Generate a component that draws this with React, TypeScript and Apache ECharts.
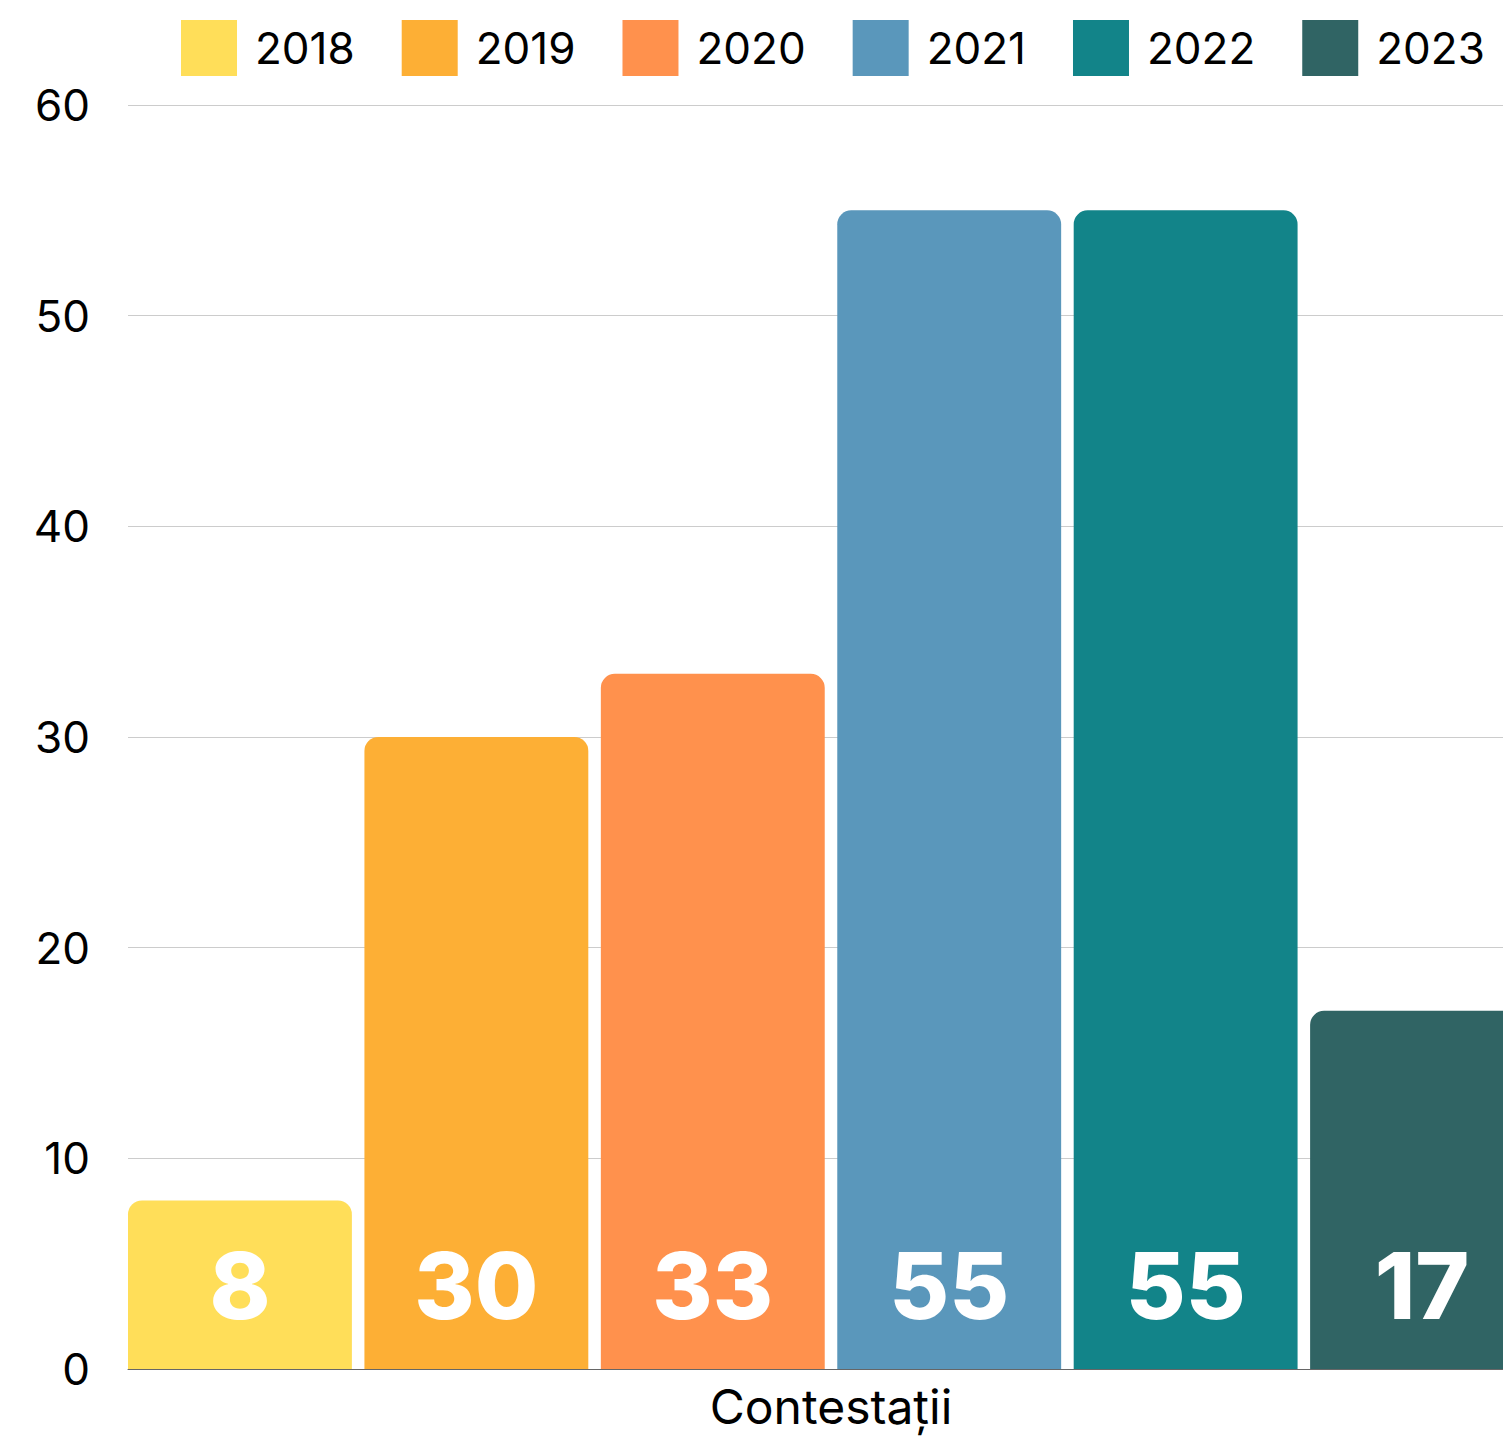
import React, { useEffect, useRef } from "react";
import * as echarts from "echarts";

const categories = ["Contestații"];
const years = ["2018", "2019", "2020", "2021", "2022", "2023"];
const values = [8, 30, 33, 55, 55, 17];
const colors = ["#FFDE59", "#FDAF35", "#FF914D", "#5A97BB", "#128489", "#306464"];
const yTicks = { min: 0, max: 60, interval: 10 };

const FONT = "Inter";

export default function App() {
  const ref = useRef<HTMLDivElement>(null);
  useEffect(() => {
    document.body.style.margin = "0";
    const chart = echarts.init(ref.current!, null, { renderer: "svg" });
    chart.setOption({
      animation: false,
      textStyle: { fontFamily: FONT },
      legend: {
        top: 20,
        left: 181,
        width: 1340,
        padding: 0,
        itemWidth: 56,
        itemHeight: 56,
        itemGap: 47,
        icon: "rect",
        textStyle: { fontSize: 44, color: "#000", fontFamily: FONT, padding: [0, 0, 0, 13] },
        data: years,
      },
      grid: { left: 128, right: 0, top: 105, bottom: 68, containLabel: false },
      xAxis: {
        type: "category",
        data: categories,
        axisLine: { lineStyle: { color: "#666", width: 1 } },
        axisTick: { show: false },
        axisLabel: { fontSize: 48, color: "#000", margin: 13, fontFamily: FONT },
      },
      yAxis: {
        type: "value",
        min: yTicks.min,
        max: yTicks.max,
        interval: yTicks.interval,
        axisLine: { show: false },
        axisTick: { show: false },
        axisLabel: { fontSize: 44, color: "#000", margin: 38, fontFamily: FONT },
        splitLine: { lineStyle: { color: "#ccc", width: 1 } },
      },
      series: years.map((y, i) => ({
        name: y,
        type: "bar",
        data: [values[i]],
        barCategoryGap: "0%",
        barGap: "5.6%",
        itemStyle: { color: colors[i], borderRadius: [14, 14, 0, 0] },
        label: {
          show: true,
          position: "insideBottom",
          distance: 38,
          color: "#fff",
          fontSize: 92,
          fontWeight: 800,
          fontFamily: FONT,
        },
      })),
    });
    return () => chart.dispose();
  }, []);
  return (
    <div style={{ width: 1503, height: 1437, overflow: "hidden", position: "relative" }}>
      <div ref={ref} style={{ width: 1534, height: 1437 }} />
    </div>
  );
}
